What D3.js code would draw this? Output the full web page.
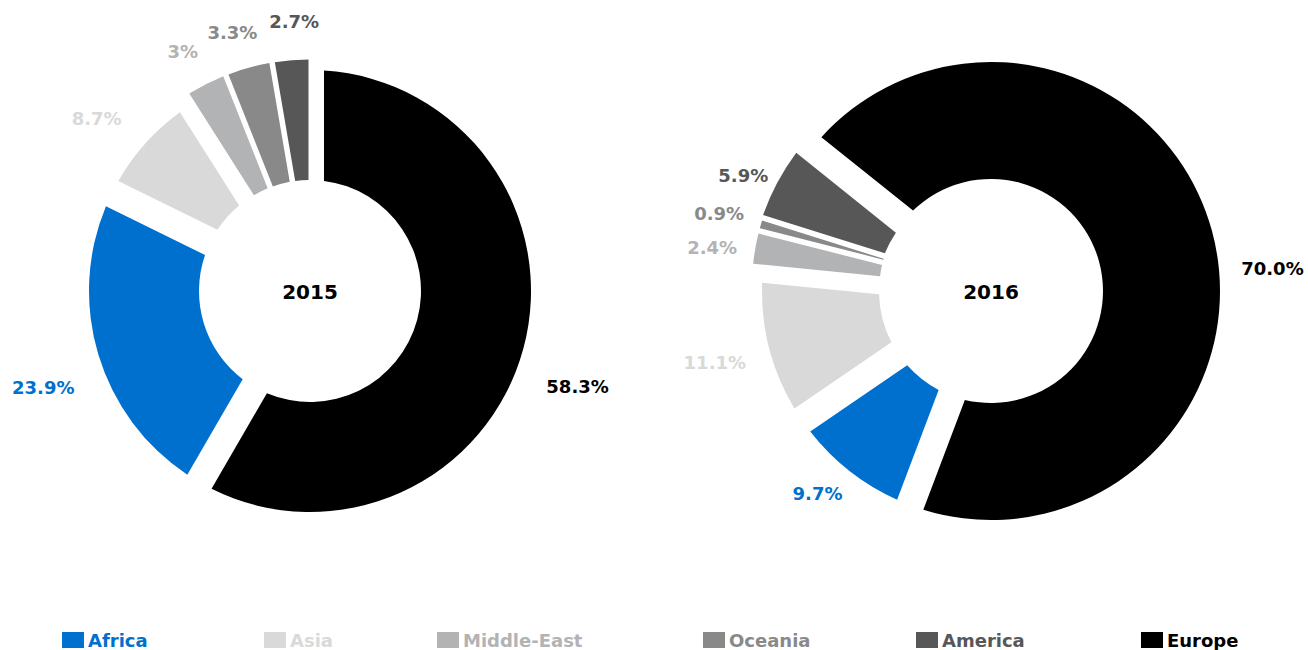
<!DOCTYPE html>
<html lang="en">
<head>
<meta charset="utf-8">
<title>Regions 2015 - 2016</title>
<script src="https://d3js.org/d3.v7.min.js"></script>
<style>
body { margin: 0; background: #fff; }
text { font-family: "DejaVu Sans", sans-serif; font-weight: bold; }
</style>
</head>
<body>
<div id="container"></div>
<script>
// data
var regions = ["Europe", "Africa", "Asia", "Middle-East", "Oceania", "America"];
var colors = ["#000000", "#0070cf", "#d9d9d9", "#b2b3b4", "#898989", "#575757"];
var values2015 = [58.3, 23.9, 8.7, 3, 3.3, 2.7];
var values2016 = [70.0, 9.7, 11.1, 2.4, 0.9, 5.9];
var labels2015 = ["58.3%", "23.9%", "8.7%", "3%", "3.3%", "2.7%"];
var labels2016 = ["70.0%", "9.7%", "11.1%", "2.4%", "0.9%", "5.9%"];
var legendOrder = ["Africa", "Asia", "Middle-East", "Oceania", "America", "Europe"];

// layout
var w = 1308, h = 650;
var legendX = [62, 264, 437, 703, 916, 1141];
var charts = [
  {year: "2015", values: values2015, labels: labels2015, cx: 310, cy: 291, r: 111, R: 221,
   start: 0, labelGap: 42, nudge: [4.5, -3, -3, -1, -1, 1.5], push: [0, 0, 0, 0, 0, 0]},
  {year: "2016", values: values2016, labels: labels2016, cx: 991, cy: 291, r: 112, R: 229,
   start: -51.3, labelGap: 28, nudge: [10.8, 2.5, 0, -1, 0, -3], push: [-6, 0, 0, 0, 0, 0]}
];

var svg = d3.select("#container").append("svg")
    .attr("width", w).attr("height", h);

var color = d3.scaleOrdinal().domain(regions).range(colors);
var deg = Math.PI / 180;

charts.forEach(function(c) {
  var a0 = c.start * deg;
  var pie = d3.pie().sort(null).startAngle(a0).endAngle(a0 + 2 * Math.PI);
  var arcs = pie(c.values);

  arcs.forEach(function(d, i) {
    var span = (d.endAngle - d.startAngle) / deg;
    var sPad = span >= 25 ? 14 : 4;
    var ePad = span >= 15 ? 14 : 1.5;
    d.pad = (sPad + ePad) / 2;
    d.shift = (sPad - ePad) / 2;
    d.mid = (d.startAngle + d.endAngle) / 2;
    d.outer = d.value < 6 ? c.R + 10.5 : c.R;
    d.region = regions[i];
    d.label = c.labels[i];
    d.nudge = c.nudge[i];
    d.push = c.push[i];
  });

  var arc = d3.arc()
      .innerRadius(c.r)
      .outerRadius(function(d) { return d.outer; })
      .padRadius(100)
      .padAngle(function(d) { return 2 * Math.asin(d.pad / 100); });

  var g = svg.append("g").attr("transform", "translate(" + c.cx + "," + c.cy + ")");

  g.selectAll("path")
    .data(arcs)
    .enter()
    .append("path")
      .attr("d", arc)
      .attr("fill", function(d) { return color(d.region); })
      .attr("transform", function(d) {
        return "translate(" + (d.shift * Math.cos(d.mid)) + "," + (d.shift * Math.sin(d.mid)) + ")";
      });

  // percentage labels outside
  g.selectAll("text.pct")
    .data(arcs)
    .enter()
    .append("text")
      .attr("class", "pct")
      .attr("text-anchor", "middle")
      .attr("font-size", 18)
      .attr("fill", function(d) { return color(d.region); })
      .text(function(d) { return d.label; })
      .each(function(d) {
        var tw = this.getComputedTextLength(), th = 14;
        var a = d.mid + d.nudge * deg;
        var dx = Math.sin(a), dy = -Math.cos(a);
        var t = Math.min(tw / 2 / Math.max(Math.abs(dx), 1e-6), th / 2 / Math.max(Math.abs(dy), 1e-6));
        var rr = c.R + c.labelGap + d.push + t;
        d3.select(this)
          .attr("x", dx * rr)
          .attr("y", dy * rr + 6.6);
      });

  g.append("text")
    .attr("text-anchor", "middle")
    .attr("font-size", 20)
    .attr("y", 8)
    .attr("fill", "#000")
    .text(c.year);
});

// legend
var legend = svg.selectAll("g.legend")
  .data(legendOrder)
  .enter()
  .append("g")
    .attr("class", "legend")
    .attr("transform", function(d, i) { return "translate(" + legendX[i] + ",632)"; });

legend.append("rect")
  .attr("width", 22).attr("height", 16)
  .attr("fill", function(d) { return color(d); });

legend.append("text")
  .attr("x", 26).attr("y", 15)
  .attr("font-size", 18)
  .attr("fill", function(d) { return color(d); })
  .text(function(d) { return d; });
</script>
</body>
</html>
